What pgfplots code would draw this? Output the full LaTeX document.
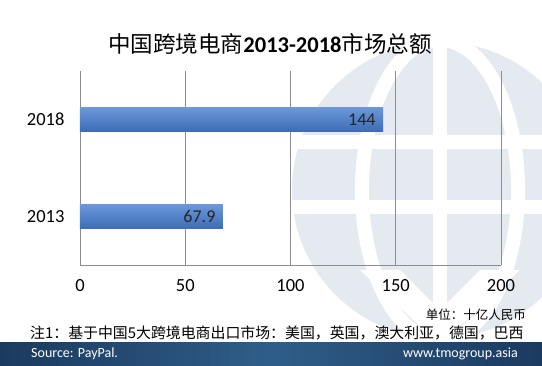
\documentclass[border=0pt]{standalone}
\usepackage{pgfplots}
\pgfplotsset{compat=1.18}
\usepackage{fontspec}
\setmainfont{Carlito}
\newfontfamily\cjk{Noto Sans CJK SC}
\definecolor{globe}{RGB}{229,233,240}
\definecolor{bartop}{RGB}{108,152,218}
\definecolor{barmid}{RGB}{84,130,200}
\definecolor{barbot}{RGB}{62,108,178}
\definecolor{bandA}{RGB}{27,58,94}
\definecolor{bandB}{RGB}{47,93,138}
\begin{document}
\begin{tikzpicture}
\path[use as bounding box, fill=white] (0,0) rectangle (542pt,-365pt);
% globe watermark
\begin{scope}
\clip (0,0) rectangle (542pt,-342pt);
\fill[globe] (440pt,-190pt) circle (148pt);
\draw[white, line width=14pt] (440pt,-190pt) ellipse (78pt and 150pt);
\draw[white, line width=14pt] (440pt,-40pt) -- (440pt,-340pt);
\draw[white, line width=14pt] (290pt,-142pt) -- (590pt,-142pt);
\draw[white, line width=14pt] (290pt,-207pt) -- (590pt,-207pt);
\fill[white] (360pt,-270pt) -- (440pt,-345pt) -- (520pt,-270pt) -- (480pt,-270pt) -- (440pt,-310pt) -- (400pt,-270pt) -- cycle;
\end{scope}
\begin{axis}[
  at={(80pt,-265pt)}, anchor=south west,
  scale only axis, width=421pt, height=194pt,
  xbar, bar width=0.25, bar shift=0pt,
  xmin=0, xmax=200, ymin=-0.5, ymax=1.5,
  xtick={0,50,100,150,200},
  ytick={0,1}, yticklabels={2013,2018},
  xmajorgrids, grid style={draw=black!45, line width=0.6pt},
  axis x line*=bottom, axis y line*=left,
  x axis line style={draw=black!45, line width=0.6pt, -},
  y axis line style={draw=none},
  major tick length=0pt,
  /pgf/number format/assume math mode=true,
  tick label style={font=\fontsize{18.5}{19}\selectfont},
  xticklabel style={yshift=-11pt},
  yticklabel style={xshift=-12pt},
  nodes near coords,
  nodes near coords style={anchor=east, xshift=-4pt, font=\fontsize{18}{18}\selectfont, text=black!85},
  point meta=explicit symbolic,
]
\addplot[draw=none, top color=bartop, bottom color=barbot, middle color=barmid] coordinates {(67.9,0) [67.9]};
\addplot[draw=none, top color=bartop, bottom color=barbot, middle color=barmid] coordinates {(144,1) [144]};
\end{axis}
% title
\node at (270pt,-44pt) {\fontsize{22.5}{23}\selectfont{\cjk 中国跨境电商}\textbf{2013-2018}{\cjk 市场总额}};
% notes
\node[anchor=east, inner sep=0pt] at (526pt,-315pt) {\fontsize{12.5}{13}\selectfont\cjk 单位：十亿人民币};
\node[anchor=west, inner sep=0pt] at (30pt,-333pt) {\fontsize{14.9}{15}\selectfont\cjk 注1：基于中国5大跨境电商出口市场：美国，英国，澳大利亚，德国，巴西};
% bottom band
\shade[left color=bandA, right color=bandA, middle color=bandB] (0,-342pt) rectangle (542pt,-365pt);
\node[anchor=west, inner sep=0pt, text=white] at (31pt,-353.5pt) {\fontsize{14}{14}\selectfont Source: PayPal.};
\node[anchor=east, inner sep=0pt, text=white] at (518pt,-353.5pt) {\fontsize{14}{14}\selectfont www.tmogroup.asia};
\end{tikzpicture}
\end{document}
